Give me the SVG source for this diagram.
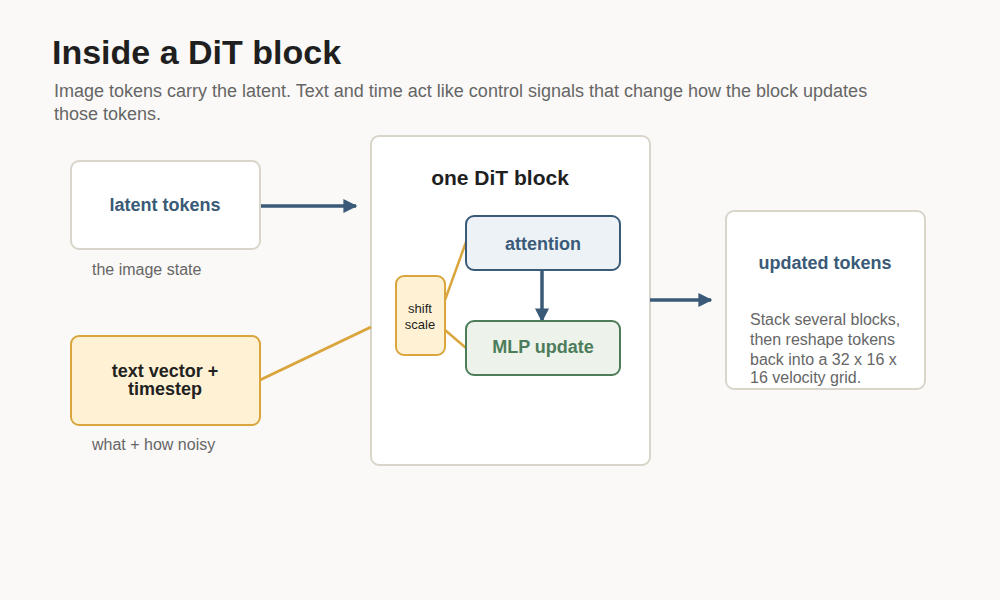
<svg xmlns="http://www.w3.org/2000/svg" width="1000" height="600" viewBox="0 0 1000 600">
<style>
.bg{fill:#faf9f7}
.card{fill:#ffffff;stroke:#d9d5cb;stroke-width:2}
.gold{fill:#fff2d4;stroke:#d9a53c;stroke-width:2}
.blue{fill:#edf2f6;stroke:#3a5a78;stroke-width:2}
.green{fill:#edf3ea;stroke:#4c7c5a;stroke-width:2}
text{font-family:"Liberation Sans",Arial,sans-serif}
.title{font-size:34px;font-weight:bold;fill:#1f1f1f}
.sub{font-size:18px;fill:#666}
.lbl{font-size:18px;font-weight:bold;text-anchor:middle}
.note{font-size:16px;fill:#666}
.cb{stroke:#3a5a78;stroke-width:3.5;fill:none}
.cg{stroke:#d9a53c;stroke-width:2.5;fill:none}
</style>
<defs>
<marker id="ah" viewBox="0 0 10 10" refX="9" refY="5" markerWidth="4" markerHeight="4" orient="auto" markerUnits="strokeWidth">
<path d="M0,0 L10,5 L0,10 z" fill="#3a5a78"/>
</marker>
</defs>
<rect class="bg" x="0" y="0" width="1000" height="600"/>
<text class="title" x="52" y="64">Inside a DiT block</text>
<text class="sub" x="54" y="97">Image tokens carry the latent. Text and time act like control signals that change how the block updates</text>
<text class="sub" x="54" y="120">those tokens.</text>

<g id="block">
<rect class="card" x="371" y="136" width="279" height="329" rx="8"/>
<text class="lbl" x="500" y="185" style="font-size:21px;fill:#1f1f1f">one DiT block</text>
</g>

<g id="connectors">
<line class="cb" x1="260" y1="206" x2="356" y2="206" marker-end="url(#ah)"/>
<line class="cg" x1="260" y1="380" x2="371" y2="327" style="stroke-width:3"/>
<line class="cg" x1="445" y1="300" x2="466" y2="242"/>
<line class="cg" x1="445" y1="330" x2="466" y2="348"/>
<line class="cb" x1="542" y1="270" x2="542" y2="321" marker-end="url(#ah)"/>
<line class="cb" x1="650" y1="300" x2="711" y2="300" marker-end="url(#ah)"/>
</g>

<g id="latent">
<rect class="card" x="71" y="161" width="189" height="88" rx="8"/>
<text class="lbl" x="165" y="211" style="fill:#3a5a78">latent tokens</text>
<text class="note" x="92" y="275">the image state</text>
</g>

<g id="cond">
<rect class="gold" x="71" y="336" width="189" height="89" rx="8"/>
<text class="lbl" x="165" y="377" style="fill:#222">text vector +</text>
<text class="lbl" x="165" y="395" style="fill:#222">timestep</text>
<text class="note" x="92" y="450">what + how noisy</text>
</g>

<g id="attention">
<rect class="blue" x="466" y="216" width="154" height="54" rx="8"/>
<text class="lbl" x="543" y="250" style="fill:#3a5a78">attention</text>
</g>

<g id="mlp">
<rect class="green" x="466" y="321" width="154" height="54" rx="8"/>
<text class="lbl" x="543" y="353" style="fill:#4c7c5a">MLP update</text>
</g>

<g id="shift">
<rect class="gold" x="396" y="276" width="49" height="79" rx="8"/>
<text x="420" y="313" style="font-size:13px;fill:#222;text-anchor:middle">shift</text>
<text x="420" y="329" style="font-size:13px;fill:#222;text-anchor:middle">scale</text>
</g>

<g id="updated">
<rect class="card" x="726" y="211" width="199" height="178" rx="8"/>
<text class="lbl" x="825" y="269" style="fill:#3a5a78">updated tokens</text>
<text class="note" x="750" y="325">Stack several blocks,</text>
<text class="note" x="750" y="345">then reshape tokens</text>
<text class="note" x="750" y="365">back into a 32 x 16 x</text>
<text class="note" x="750" y="383">16 velocity grid.</text>
</g>
</svg>
